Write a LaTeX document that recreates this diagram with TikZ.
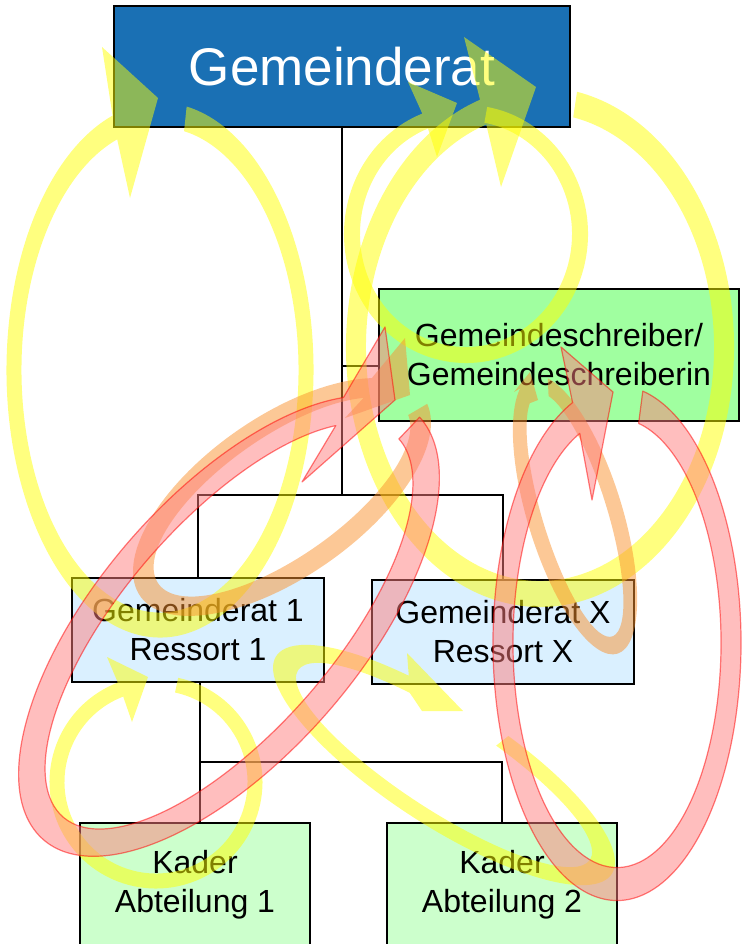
\documentclass[tikz,border=0pt]{standalone}
\usepackage{fontspec}
\setmainfont{Liberation Sans}

\definecolor{councilblue}{RGB}{26,112,180}
\definecolor{clerkgreen}{RGB}{160,255,160}
\definecolor{ressortblue}{RGB}{218,240,255}
\definecolor{kadergreen}{RGB}{204,255,204}
\definecolor{loopyellow}{RGB}{255,255,0}
\definecolor{looprose}{RGB}{255,125,125}
\definecolor{loopedge}{RGB}{255,0,0}
\definecolor{loopamber}{RGB}{250,145,45}

% parameters of one curved (elliptic) arrow band
\pgfkeys{/ring/.cd,
  rot/.store in=\ringRot,
  rx/.store in=\ringRx, ry/.store in=\ringRy,
  wx/.store in=\ringWx, wy/.store in=\ringWy,
  from/.store in=\ringFrom, to/.store in=\ringTo}

% #1 style, #2 centre, #3 ellipse keys, #4 outer head corner, #5 tip, #6 inner head corner
\newcommand\ringarrow[6]{%
  \pgfkeys{/ring/.cd, rot=0, #3}%
  \pgfmathsetmacro\ringOx{\ringRx+\ringWx/2}%
  \pgfmathsetmacro\ringOy{\ringRy+\ringWy/2}%
  \pgfmathsetmacro\ringIx{\ringRx-\ringWx/2}%
  \pgfmathsetmacro\ringIy{\ringRy-\ringWy/2}%
  \coordinate (ring-o) at (#4);
  \coordinate (ring-t) at (#5);
  \coordinate (ring-i) at (#6);
  \path[#1, shift={(#2)}, rotate=\ringRot]
    ({\ringOx*cos(\ringFrom)},{\ringOy*sin(\ringFrom)})
    arc[start angle=\ringFrom, end angle=\ringTo, x radius=\ringOx, y radius=\ringOy]
    -- (ring-o) -- (ring-t) -- (ring-i)
    -- ({\ringIx*cos(\ringTo)},{\ringIy*sin(\ringTo)})
    arc[start angle=\ringTo, end angle=\ringFrom, x radius=\ringIx, y radius=\ringIy]
    -- cycle;
}

\tikzset{
  box/.style={draw=black, line width=2.5pt, rectangle, inner sep=0pt, align=center,
    font=\fontsize{32}{39}\selectfont},
  wire/.style={line width=2.5pt},
  sunloop/.style={fill=loopyellow, fill opacity=0.5},
  amberloop/.style={fill=loopamber, fill opacity=0.5},
  roseloop/.style={fill=looprose, draw=loopedge, line width=1.2pt, opacity=0.5, line join=round},
}

\begin{document}
\begin{tikzpicture}[x=1pt, y=1pt, yscale=-1]
\useasboundingbox (0,0) rectangle (742,944);

% organisation boxes
\node[box, fill=councilblue, text=white, minimum width=456, minimum height=121,
  font=\fontsize{53}{60}\selectfont] (council) at (342,66.5) {Gemeinderat};
\node[box, fill=clerkgreen, minimum width=360, minimum height=132] (clerk) at (559,355)
  {Gemeindeschreiber/\\Gemeindeschreiberin};
\node[box, fill=ressortblue, minimum width=252, minimum height=104] (res1) at (198,630)
  {Gemeinderat 1\\Ressort 1};
\node[box, fill=ressortblue, minimum width=262, minimum height=104] (resx) at (503,632)
  {Gemeinderat X\\Ressort X};
\node[box, fill=kadergreen, minimum width=230, minimum height=123] (kader1) at (195,884.5)
  {Kader\\Abteilung 1};
\node[box, fill=kadergreen, minimum width=230, minimum height=123] (kader2) at (502,884.5)
  {Kader\\Abteilung 2};

% tree connectors
\coordinate (hub) at (342,495);
\coordinate (clerkjoin) at (342,366);
\coordinate (lowhub) at (200,762);
\draw[wire] (council.south) -- (hub);
\draw[wire] (clerkjoin) -- (clerkjoin -| clerk.west);
\draw[wire] (res1.north) |- (hub);
\draw[wire] (resx.north) |- (hub);
\draw[wire] (lowhub |- res1.south) -- (lowhub |- kader1.north);
\draw[wire] (lowhub) -| (kader2.north);

% yellow cycles
\ringarrow{sunloop}{160,370}{rx=146, ry=255, wx=15, wy=25, from=280, to=612}{102,47}{158,98}{130,198}
\ringarrow{sunloop}{466,234}{rx=114, ry=121, wx=16, wy=16, from=280, to=609}{408,82}{457,103}{437,157}
\ringarrow{sunloop}{540,347}{rx=184, ry=247, wx=20, wy=26, from=281, to=612}{464,37}{536,87}{501,187}
\ringarrow{sunloop}{156,782}{rx=99, ry=99, wx=15, wy=15, from=282, to=609}{107,657}{148,677}{132,722}
\ringarrow{sunloop}{444,765}{rot=33, rx=187, ry=53, wx=26, wy=15, from=281, to=607}{407,653}{463,711}{422,711}

% orange cycles
\ringarrow{amberloop}{282,497}{rot=-35, rx=162, ry=70, wx=22, wy=20, from=5, to=325}{405,338}{410,395}{345,418}
\ringarrow{amberloop}{575,515}{rot=73, rx=136, ry=40, wx=18, wy=15, from=197, to=521}{514,392}{530,372}{538,400}

% red cycles
\ringarrow{roseloop}{229,626}{rot=-49, rx=268, ry=118, wx=30, wy=26, from=3, to=331}{385,327}{395,400}{302,482}
\ringarrow{roseloop}{617,643}{rx=114, ry=241, wx=20, wy=33, from=282, to=609}{561,347}{613,392}{592,500}
\end{tikzpicture}
\end{document}
